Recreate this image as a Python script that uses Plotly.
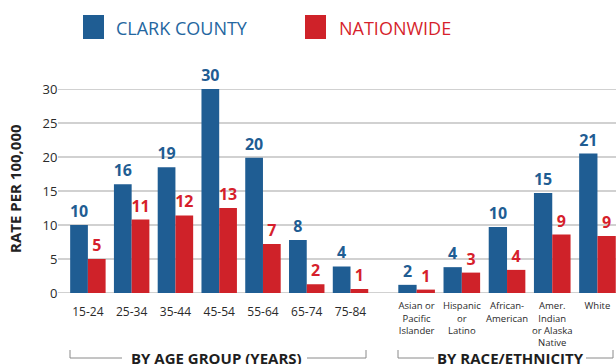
import plotly.graph_objects as go

# ---------------- data ----------------
age_groups = ["15-24", "25-34", "35-44", "45-54", "55-64", "65-74", "75-84"]
age_clark = [10.0, 16.0, 18.5, 30.0, 19.9, 7.8, 3.9]
age_nation = [5.0, 10.8, 11.4, 12.5, 7.2, 1.3, 0.6]
age_clark_labels = ["10", "16", "19", "30", "20", "8", "4"]
age_nation_labels = ["5", "11", "12", "13", "7", "2", "1"]

race_groups = ["Asian or<br>Pacific<br>Islander", "Hispanic<br>or<br>Latino",
               "African-<br>American", "Amer.<br>Indian<br>or Alaska<br>Native", "White"]
race_clark = [1.2, 3.8, 9.7, 14.7, 20.5]
race_nation = [0.5, 3.0, 3.4, 8.6, 8.4]
race_clark_labels = ["2", "4", "10", "15", "21"]
race_nation_labels = ["1", "3", "4", "9", "9"]

y_ticks = [0, 5, 10, 15, 20, 25, 30]

# ---------------- style ----------------
W, H = 616, 364
L, R, T, B = 58, 0, 89, 71
BLUE = "#1f5d93"
RED = "#cf2229"
BLUE_TXT = "#2466a0"
RED_TXT = "#d61f2c"
FONT = "Open Sans"

PW = W - L - R
PH = H - T - B


def px2x(X):
    return (X - L) / PW


def px2y(Y):
    return (H - B - Y) / PH


fig = go.Figure()

series = [
    (age_groups, age_clark, age_clark_labels, BLUE, BLUE, "x"),
    (age_groups, age_nation, age_nation_labels, RED, RED_TXT, "x"),
    (race_groups, race_clark, race_clark_labels, BLUE, BLUE, "x2"),
    (race_groups, race_nation, race_nation_labels, RED, RED_TXT, "x2"),
]
for cats, vals, labs, col, tcol, xa in series:
    fig.add_trace(go.Bar(
        x=cats, y=vals, text=labs, xaxis=xa, yaxis="y",
        marker=dict(color=col, line=dict(width=0)),
        textposition="outside", cliponaxis=False, constraintext="none",
        textfont=dict(family=FONT, size=16, weight="bold", color=tcol),
        showlegend=False, hoverinfo="x+y",
    ))

# gridlines across the whole plot width
shapes = []
for v in y_ticks:
    shapes.append(dict(type="line", xref="paper", yref="y", x0=0, x1=1, y0=v, y1=v,
                       line=dict(color="#a3a3a3", width=1.2), layer="below"))

# legend squares
shapes.append(dict(type="rect", xref="paper", yref="paper", x0=px2x(83), x1=px2x(104),
                   y0=px2y(39), y1=px2y(15), fillcolor=BLUE, line=dict(width=0)))
shapes.append(dict(type="rect", xref="paper", yref="paper", x0=px2x(305), x1=px2x(326),
                   y0=px2y(39), y1=px2y(15), fillcolor=RED, line=dict(width=0)))

# brackets under the group labels
BR_Y, BR_TOP = 358, 350
for (a, b, c, d) in [(70, 122, 307, 366), (398, 434, 586, 613)]:
    for (x0, x1) in [(a, b), (c, d)]:
        shapes.append(dict(type="line", xref="paper", yref="paper", x0=px2x(x0), x1=px2x(x1),
                           y0=px2y(BR_Y), y1=px2y(BR_Y), line=dict(color="#8a8a8a", width=1)))
    for xx in (a, d):
        shapes.append(dict(type="line", xref="paper", yref="paper", x0=px2x(xx), x1=px2x(xx),
                           y0=px2y(BR_Y), y1=px2y(BR_TOP), line=dict(color="#8a8a8a", width=1)))

annotations = [
    dict(text="CLARK COUNTY", xref="paper", yref="paper", x=px2x(114), y=px2y(28),
         xanchor="left", yanchor="middle", showarrow=False,
         font=dict(family=FONT, size=18, color=BLUE_TXT)),
    dict(text="NATIONWIDE", xref="paper", yref="paper", x=px2x(337), y=px2y(28),
         xanchor="left", yanchor="middle", showarrow=False,
         font=dict(family=FONT, size=18, color=RED_TXT)),
    dict(text="RATE PER 100,000", xref="paper", yref="paper", x=px2x(15), y=px2y(189),
         xanchor="center", yanchor="middle", textangle=-90, showarrow=False,
         font=dict(family=FONT, size=15, color="#222222", weight="bold")),
    dict(text="BY AGE GROUP (YEARS)", xref="paper", yref="paper", x=px2x(216), y=px2y(358),
         xanchor="center", yanchor="middle", showarrow=False,
         font=dict(family=FONT, size=15, color="#1e1e1e", weight="bold")),
    dict(text="BY RACE/ETHNICITY", xref="paper", yref="paper", x=px2x(510), y=px2y(358),
         xanchor="center", yanchor="middle", showarrow=False,
         font=dict(family=FONT, size=15, color="#1e1e1e", weight="bold")),
]

fig.update_layout(
    width=W, height=H,
    margin=dict(l=L, r=R, t=T, b=B, pad=0),
    paper_bgcolor="white", plot_bgcolor="white",
    barmode="group", bargap=0.19, bargroupgap=0,
    showlegend=False,
    font=dict(family=FONT, color="#333333"),
    shapes=shapes, annotations=annotations,
    xaxis=dict(domain=[px2x(66), px2x(372.4)], anchor="y", showgrid=False, zeroline=False,
               showline=False, ticks="outside", ticklen=8, tickcolor="rgba(0,0,0,0)",
               tickfont=dict(family=FONT, size=12, color="#2a2a2a"), fixedrange=True),
    xaxis2=dict(domain=[px2x(394), 1], anchor="y", range=[-0.5, 4.41], showgrid=False,
                zeroline=False, showline=False, ticks="outside", ticklen=4,
                tickcolor="rgba(0,0,0,0)", tickangle=0,
                tickfont=dict(family=FONT, size=9.5, color="#2a2a2a"), fixedrange=True),
    yaxis=dict(range=[0, 30], tickvals=y_ticks, showgrid=False, zeroline=False,
               showline=False, ticks="outside", ticklen=5, tickcolor="rgba(0,0,0,0)",
               tickfont=dict(family=FONT, size=13, color="#2a2a2a"), fixedrange=True),
)

fig.write_html("out.html", config={"displayModeBar": False},
               post_script="document.body.style.margin='0';document.body.style.overflow='hidden';")
